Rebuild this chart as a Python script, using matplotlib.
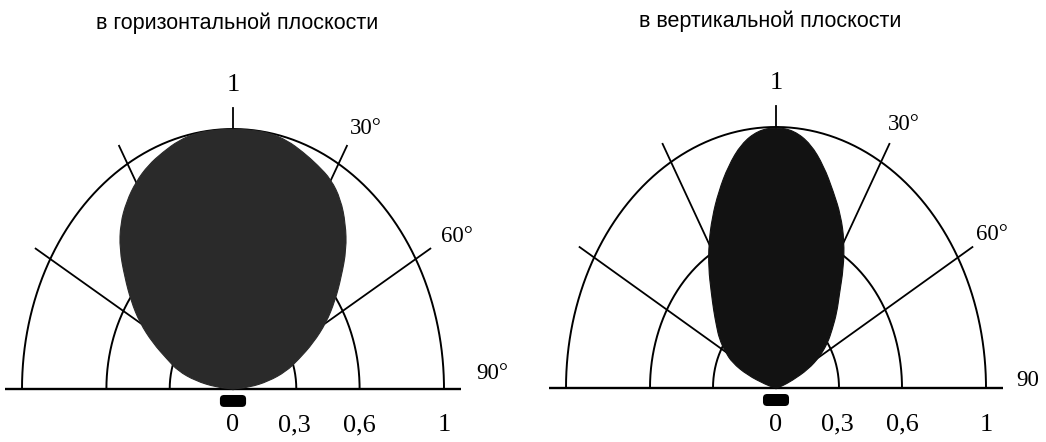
import matplotlib
matplotlib.use("Agg")
import matplotlib.pyplot as plt
import numpy as np
from matplotlib.patches import FancyBboxPatch, PathPatch
from matplotlib.path import Path

# angle from the vertical axis, degrees
angles = [-90, -85, -80, -75, -70, -65, -60, -55, -50, -45, -40, -35, -30, -25, -20, -15, -10, -5, 0,
          5, 10, 15, 20, 25, 30, 35, 40, 45, 50, 55, 60, 65, 70, 75, 80, 85, 90]

# relative intensity in the horizontal plane
horiz_r = [0, 0.08, 0.18, 0.27, 0.33, 0.42, 0.51, 0.59, 0.67, 0.76, 0.83, 0.88, 0.92, 0.95, 0.97, 0.99, 1.0, 1.0, 1.0,
           1.0, 1.0, 0.99, 0.97, 0.95, 0.93, 0.89, 0.83, 0.76, 0.67, 0.59, 0.51, 0.42, 0.33, 0.26, 0.17, 0.08, 0]

# relative intensity in the vertical plane
vert_r = [0, 0, 0.01, 0.05, 0.145, 0.23, 0.28, 0.33, 0.37, 0.42, 0.48, 0.56, 0.64, 0.72, 0.80, 0.88, 0.95, 0.99, 1.0,
          0.99, 0.95, 0.88, 0.80, 0.73, 0.65, 0.56, 0.47, 0.41, 0.35, 0.30, 0.24, 0.17, 0.08, 0.03, 0.01, 0, 0]

rings = [0.3, 0.6, 1.0]
ring_labels = ["0", "0,3", "0,6", "1"]
ring_label_pos = [0, 0.29, 0.6, 1.0]
spokes = [-60, -30, 0, 30, 60]

titles = ["в горизонтальной плоскости", "в вертикальной плоскости"]
angle_labels_left = [("30°", 0.63, 1.0), ("60°", 1.06, 0.585), ("90°", 1.23, 0.06)]
angle_labels_right = [("30°", 0.61, 1.01), ("60°", 1.03, 0.59), ("90", 1.2, 0.03)]

serif = "Liberation Serif"
sans = "Liberation Sans"

fig = plt.figure(figsize=(10.46, 4.42), dpi=100)


def polar_xy(r, deg):
    t = np.radians(deg)
    return np.asarray(r) * np.sin(t), np.asarray(r) * np.cos(t)


def smooth_lobe(x, y):
    # closed quadratic bezier: data points act as control points, midpoints lie on the curve
    pts = np.column_stack([x, y])
    mids = (pts + np.roll(pts, -1, axis=0)) / 2
    verts = [mids[-1]]
    codes = [Path.MOVETO]
    for p, m in zip(pts, mids):
        verts += [p, m]
        codes += [Path.CURVE3, Path.CURVE3]
    return Path(verts, codes)


def draw(ax, r, color, title, angle_labels, title_x):
    ax.axis("off")
    # baseline
    ax.plot([-1.08, 1.08], [0, 0], color="black", lw=1.7, solid_capstyle="butt")
    # rings
    th = np.linspace(-90, 90, 300)
    for rr in rings:
        x, y = polar_xy(rr, th)
        ax.plot(x, y, color="black", lw=1.4, zorder=3)
    # spokes
    for a in spokes:
        x, y = polar_xy([0, 1.08], [a, a])
        ax.plot(x, y, color="black", lw=1.3, zorder=2)
    # pattern
    x, y = polar_xy(r, angles)
    ax.add_patch(PathPatch(smooth_lobe(x, y), fc=color, ec=color, lw=0.8, zorder=4))
    # emitter
    ax.add_patch(FancyBboxPatch((-0.062, -0.069), 0.124, 0.046,
                                boxstyle="round,pad=0,rounding_size=0.02",
                                mutation_aspect=0.77, fc="black", ec="none", zorder=5))
    # labels
    for lab, xv in zip(ring_labels, ring_label_pos):
        ax.text(xv, -0.14, lab, ha="center", va="center", fontsize=19, family=serif)
    ax.text(0, 1.17, "1", ha="center", va="center", fontsize=19, family=serif)
    for lab, xv, yv in angle_labels:
        ax.text(xv, yv, lab, ha="center", va="center", fontsize=16.5, family=serif)
    ax.text(title_x, 1.405, title, ha="center", va="center", fontsize=15.5, family=sans)


ax1 = fig.add_axes([0, 0, 0.5, 1])
ax1.set_xlim(-233 / 211, 290 / 211)
ax1.set_ylim(-53 / 260, 389 / 260)
draw(ax1, horiz_r, "#2a2a2a", titles[0], angle_labels_left, 0.02)

ax2 = fig.add_axes([0.5, 0, 0.5, 1])
ax2.set_xlim(-253 / 210, 270 / 210)
ax2.set_ylim(-54 / 261, 388 / 261)
draw(ax2, vert_r, "#121212", titles[1], angle_labels_right, -0.03)

fig.savefig("out.png", dpi=100)
